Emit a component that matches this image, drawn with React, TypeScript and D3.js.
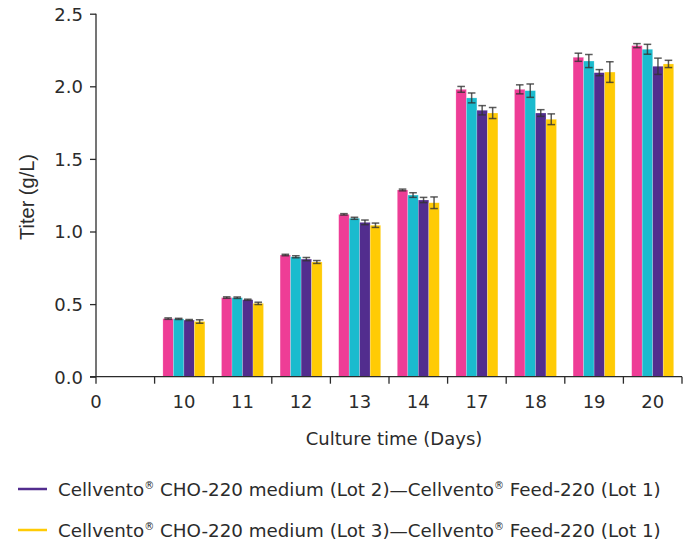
import React, { useEffect, useRef } from 'react';
import * as d3 from 'd3';

// culture days on the x axis (first slot is the empty day-0 slot)
const days = ['10', '11', '12', '13', '14', '17', '18', '19', '20'];
const yTicks = [0, 0.5, 1.0, 1.5, 2.0, 2.5];

const seriesKeys = ['lot1', 'lot1b', 'lot2', 'lot3'];
const seriesColors = ['#EE3D96', '#1BBBCE', '#522D8E', '#FFCB05'];

const lot1Values = [0.4, 0.545, 0.838, 1.118, 1.286, 1.979, 1.979, 2.2, 2.28];
const lot1Err = [0.005, 0.005, 0.005, 0.005, 0.006, 0.02, 0.031, 0.028, 0.014];
const lot1bValues = [0.398, 0.544, 0.826, 1.091, 1.251, 1.92, 1.97, 2.174, 2.255];
const lot1bErr = [0.004, 0.005, 0.007, 0.007, 0.016, 0.034, 0.046, 0.045, 0.034];
const lot2Values = [0.39, 0.53, 0.81, 1.063, 1.217, 1.835, 1.816, 2.094, 2.138];
const lot2Err = [0.004, 0.004, 0.011, 0.016, 0.018, 0.032, 0.023, 0.021, 0.056];
const lot3Values = [0.38, 0.505, 0.79, 1.043, 1.198, 1.816, 1.773, 2.098, 2.154];
const lot3Err = [0.012, 0.008, 0.01, 0.015, 0.04, 0.038, 0.037, 0.071, 0.025];

const legendItems = [
  { color: '#522D8E', lot: '2' },
  { color: '#FFCB05', lot: '3' },
];

const values = [lot1Values, lot1bValues, lot2Values, lot3Values];
const errors = [lot1Err, lot1bErr, lot2Err, lot3Err];

const FONT = "'DejaVu Sans', Verdana, sans-serif";
const AXIS = '#2b2b2b';

const App = () => {
  const ref = useRef<SVGSVGElement>(null);

  useEffect(() => {
    const svg = d3.select(ref.current);
    svg.selectAll('*').remove();

    const left = 96, right = 682, top = 13.7, bottom = 376.7;

    const x0 = d3.scaleBand<string>()
      .domain(['', ...days])
      .range([left, right])
      .paddingInner(0)
      .paddingOuter(0);

    const x1 = d3.scaleBand<string>()
      .domain(seriesKeys)
      .range([0, x0.bandwidth()])
      .paddingInner(0)
      .paddingOuter(0.79);

    const y = d3.scaleLinear().domain([0, 2.5]).range([bottom, top]);

    // bars
    const rows = days.map((d, i) => ({
      day: d,
      items: seriesKeys.map((k, s) => ({ key: k, s, v: values[s][i], e: errors[s][i] })),
    }));

    const groups = svg.append('g')
      .selectAll('g')
      .data(rows)
      .join('g')
      .attr('transform', d => `translate(${x0(d.day)},0)`);

    groups.selectAll('rect')
      .data(d => d.items)
      .join('rect')
      .attr('x', d => x1(d.key)!)
      .attr('width', x1.bandwidth())
      .attr('y', d => y(d.v))
      .attr('height', d => y(0) - y(d.v))
      .attr('fill', d => seriesColors[d.s])
      .attr('stroke', 'rgba(255,255,255,0.35)')
      .attr('stroke-width', 0.6);

    // error bars
    const eb = groups.selectAll('g.err')
      .data(d => d.items)
      .join('g')
      .attr('class', 'err')
      .attr('stroke', '#333')
      .attr('stroke-opacity', 0.8)
      .attr('stroke-width', 1.5);
    const cx = (d: any) => x1(d.key)! + x1.bandwidth() / 2;
    eb.append('line')
      .attr('x1', cx).attr('x2', cx)
      .attr('y1', d => y(d.v + d.e)).attr('y2', d => y(d.v - d.e));
    eb.append('line')
      .attr('x1', d => cx(d) - 3.8).attr('x2', d => cx(d) + 3.8)
      .attr('y1', d => y(d.v + d.e)).attr('y2', d => y(d.v + d.e));
    eb.append('line')
      .attr('x1', d => cx(d) - 3.8).attr('x2', d => cx(d) + 3.8)
      .attr('y1', d => y(d.v - d.e)).attr('y2', d => y(d.v - d.e));

    // y axis
    const yAxis = svg.append('g')
      .attr('transform', `translate(${left},0)`)
      .call(d3.axisLeft(y).tickValues(yTicks).tickFormat(d3.format('.1f')).tickSize(6).tickPadding(7));
    yAxis.select('.domain').attr('stroke', AXIS).attr('stroke-width', 1.3).attr('d', `M0,${top}V${bottom}`);
    yAxis.selectAll('.tick line').attr('stroke', AXIS).attr('stroke-width', 1.3);
    yAxis.selectAll('.tick text')
      .attr('font-family', FONT).attr('font-size', 18).attr('fill', AXIS).attr('dy', '0.36em');

    // x axis
    const xAxis = svg.append('g');
    xAxis.append('line')
      .attr('x1', left - 6).attr('x2', right)
      .attr('y1', bottom).attr('y2', bottom)
      .attr('stroke', AXIS).attr('stroke-width', 1.3);
    const edges = [...x0.domain().map(d => x0(d)!), right];
    xAxis.selectAll('line.tick')
      .data(edges)
      .join('line')
      .attr('class', 'tick')
      .attr('x1', d => d).attr('x2', d => d)
      .attr('y1', bottom).attr('y2', bottom + 7)
      .attr('stroke', AXIS).attr('stroke-width', 1.3);
    const xLabels = [{ t: '0', x: left }, ...days.map(d => ({ t: d, x: x0(d)! + x0.bandwidth() / 2 }))];
    xAxis.selectAll('text')
      .data(xLabels)
      .join('text')
      .attr('x', d => d.x)
      .attr('y', 408)
      .attr('text-anchor', 'middle')
      .attr('font-family', FONT).attr('font-size', 18).attr('fill', AXIS)
      .text(d => d.t);

    // axis titles
    svg.append('text')
      .attr('x', 394).attr('y', 445)
      .attr('text-anchor', 'middle')
      .attr('font-family', FONT).attr('font-size', 18).attr('fill', AXIS)
      .text('Culture time (Days)');
    svg.append('text')
      .attr('transform', 'translate(34,197) rotate(-90)')
      .attr('text-anchor', 'middle')
      .attr('font-family', "'Liberation Sans', Arial, sans-serif").attr('font-size', 20).attr('fill', AXIS)
      .text('Titer (g/L)');

    // legend
    const lg = svg.append('g')
      .selectAll('g')
      .data(legendItems)
      .join('g')
      .attr('transform', (d, i) => `translate(0,${489 + i * 41})`);
    lg.append('line')
      .attr('x1', 18).attr('x2', 47).attr('y1', 0).attr('y2', 0)
      .attr('stroke', d => d.color).attr('stroke-width', 2.5);
    const lt = lg.append('text')
      .attr('x', 58).attr('y', 6.5)
      .attr('font-family', FONT).attr('font-size', 18.3).attr('fill', AXIS);
    lt.append('tspan').text('Cellvento');
    lt.append('tspan').attr('font-size', 10).attr('dy', -7).text('®');
    lt.append('tspan').attr('dy', 7).text(d => ` CHO-220 medium (Lot ${d.lot})—Cellvento`);
    lt.append('tspan').attr('font-size', 10).attr('dy', -7).text('®');
    lt.append('tspan').attr('dy', 7).text(' Feed-220 (Lot 1)');
  }, []);

  return (
    <svg
      ref={ref}
      width={692}
      height={543}
      style={{ position: 'absolute', left: 0, top: 0, background: '#fff' }}
    />
  );
};

export default App;
